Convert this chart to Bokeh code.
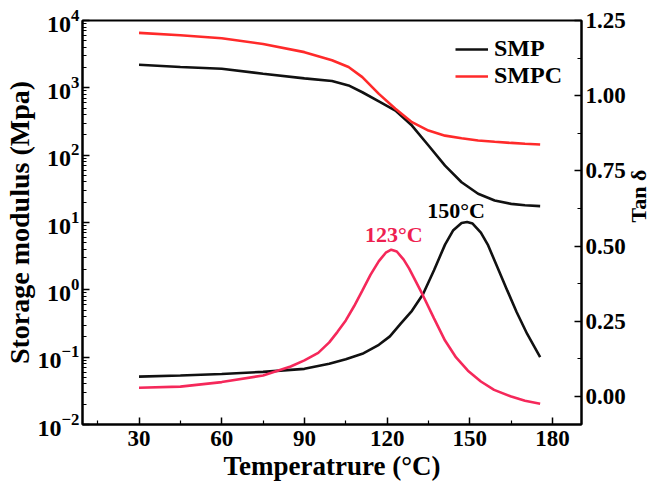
import math
from bokeh.plotting import figure
from bokeh.models import (Range1d, LinearAxis, Legend, LegendItem, FixedTicker,
                          Label, NumeralTickFormatter, LinearScale, Title)
from bokeh.embed import file_html
from bokeh.resources import INLINE

# ---- data ----
temp_E = [30, 45, 60, 75, 90, 100, 106, 111, 117, 123, 129, 135, 141, 147, 153, 159, 165, 170, 175.5]
smp_E = [2200, 2040, 1920, 1620, 1380, 1260, 1085, 860, 630, 460, 275, 139, 70, 39.6, 26.7, 21.2, 18.9, 18.0, 17.5]
smpc_E = [6560, 6030, 5460, 4470, 3390, 2570, 2040, 1440, 813, 490, 309, 232, 195, 178, 165, 158, 152, 148, 144]

temp_tan_smp = [30, 45, 60, 75, 90, 99, 105, 111, 117, 121, 125, 129, 133, 137, 141, 144, 147, 149,
                151, 154, 156.5, 160, 163.6, 167, 170.8, 175.5]
smp_tan = [0.066, 0.070, 0.075, 0.082, 0.092, 0.109, 0.124, 0.142, 0.172, 0.200, 0.243, 0.285, 0.340,
           0.420, 0.505, 0.553, 0.577, 0.580, 0.575, 0.545, 0.505, 0.430, 0.352, 0.280, 0.208, 0.131]

temp_tan_smpc = [30, 45, 60, 75, 85, 90, 95, 99, 102, 105, 108, 111, 114, 117, 119.5, 121.5, 123.5, 126,
                 128, 130.2, 133, 137, 141, 145, 149.3, 154, 158.8, 165, 170, 175.5]
smpc_tan = [0.029, 0.033, 0.048, 0.070, 0.100, 0.120, 0.145, 0.180, 0.215, 0.253, 0.300, 0.352, 0.405,
            0.450, 0.478, 0.488, 0.482, 0.455, 0.425, 0.386, 0.336, 0.260, 0.186, 0.130, 0.086, 0.050,
            0.022, 0.000, -0.014, -0.024]

x_ticks = [30, 60, 90, 120, 150, 180]
x_minor = [15, 45, 75, 105, 135, 165]
tan_ticks = [0.0, 0.25, 0.5, 0.75, 1.0, 1.25]
tan_minor = [0.125, 0.375, 0.625, 0.875, 1.125]

FONT = "Liberation Serif"
BLACK = "#111111"
RED_E = "#ff2a2a"
RED_T = "#f5285a"

p = figure(width=666, height=487, x_range=Range1d(9.5, 190.5), y_range=Range1d(1e-2, 1e4),
           y_axis_type="log", output_backend="svg", toolbar_location=None,
           min_border_left=80, min_border_right=80, min_border_top=20, min_border_bottom=63)
p.extra_y_ranges = {"tan": Range1d(-0.093, 1.25)}
p.extra_y_scales = {"tan": LinearScale()}
p.xgrid.visible = False
p.ygrid.visible = False
p.outline_line_color = "black"
p.outline_line_width = 2
p.background_fill_color = "white"
p.border_fill_color = "white"

r1 = p.line(temp_E, smp_E, line_color=BLACK, line_width=2.6)
r2 = p.line(temp_E, smpc_E, line_color=RED_E, line_width=2.6)
p.line(temp_tan_smp, smp_tan, line_color=BLACK, line_width=2.6, y_range_name="tan")
p.line(temp_tan_smpc, smpc_tan, line_color=RED_T, line_width=2.6, y_range_name="tan")

right = LinearAxis(y_range_name="tan", ticker=FixedTicker(ticks=tan_ticks, minor_ticks=tan_minor),
                   formatter=NumeralTickFormatter(format="0.00"))
p.add_layout(right, "right")

xa = p.xaxis[0]
xa.ticker = FixedTicker(ticks=x_ticks, minor_ticks=x_minor)
xa.axis_label = "Temperatrure (°C)"
ya = p.yaxis[0]
ya.axis_label = "Storage modulus (Mpa)"

for ax in [xa, ya, right]:
    ax.axis_line_width = 2
    ax.axis_line_color = "black"
    ax.major_tick_in = 7
    ax.major_tick_out = 0
    ax.minor_tick_in = 4
    ax.minor_tick_out = 0
    ax.major_tick_line_width = 1.5
    ax.minor_tick_line_width = 1.2
    ax.major_label_text_font = FONT
    ax.major_label_text_font_style = "bold"
    ax.major_label_text_font_size = "23px"
    ax.major_label_text_color = "black"
    ax.axis_label_text_font = FONT
    ax.axis_label_text_font_style = "bold"
    ax.axis_label_text_font_size = "27px"
    ax.axis_label_text_color = "black"
    ax.major_label_standoff = 6
    ax.axis_label_standoff = 2
ya.major_label_text_font_size = "24px"
ya.major_label_standoff = 3
ya.axis_label_standoff = 0
ya.axis_label_text_font_size = "28px"
right.major_label_text_font_size = "23px"
right.major_label_standoff = 4

# right axis title, reading bottom-to-top as in the reference
if "axis_label_orientation" in right.properties():
    right.axis_label = "Tan δ"
    right.axis_label_orientation = math.pi / 2
    right.axis_label_standoff = 10
    right.axis_label_text_font_size = "22px"
else:
    p.add_layout(Title(text="Tan δ", align="center", text_font=FONT, text_font_style="bold",
                       text_font_size="22px", text_color="black"), "right")

legend = Legend(items=[LegendItem(label="SMP", renderers=[r1]),
                       LegendItem(label="SMPC", renderers=[r2])],
                location=(373, 335), border_line_color=None, background_fill_alpha=0,
                padding=0, spacing=-6, glyph_width=33, glyph_height=20, label_standoff=6,
                label_text_font=FONT, label_text_font_style="bold", label_text_font_size="24px",
                label_text_color="black")
p.add_layout(legend)

p.add_layout(Label(x=145, y=0.618, y_range_name="tan", text="150°C", text_align="center",
                   text_baseline="middle", text_font=FONT, text_font_style="bold",
                   text_font_size="22px", text_color="black"))
p.add_layout(Label(x=122.4, y=0.539, y_range_name="tan", text="123°C", text_align="center",
                   text_baseline="middle", text_font=FONT, text_font_style="bold",
                   text_font_size="22px", text_color="#ee2050"))

open("out.html", "w").write(file_html(p, INLINE))
